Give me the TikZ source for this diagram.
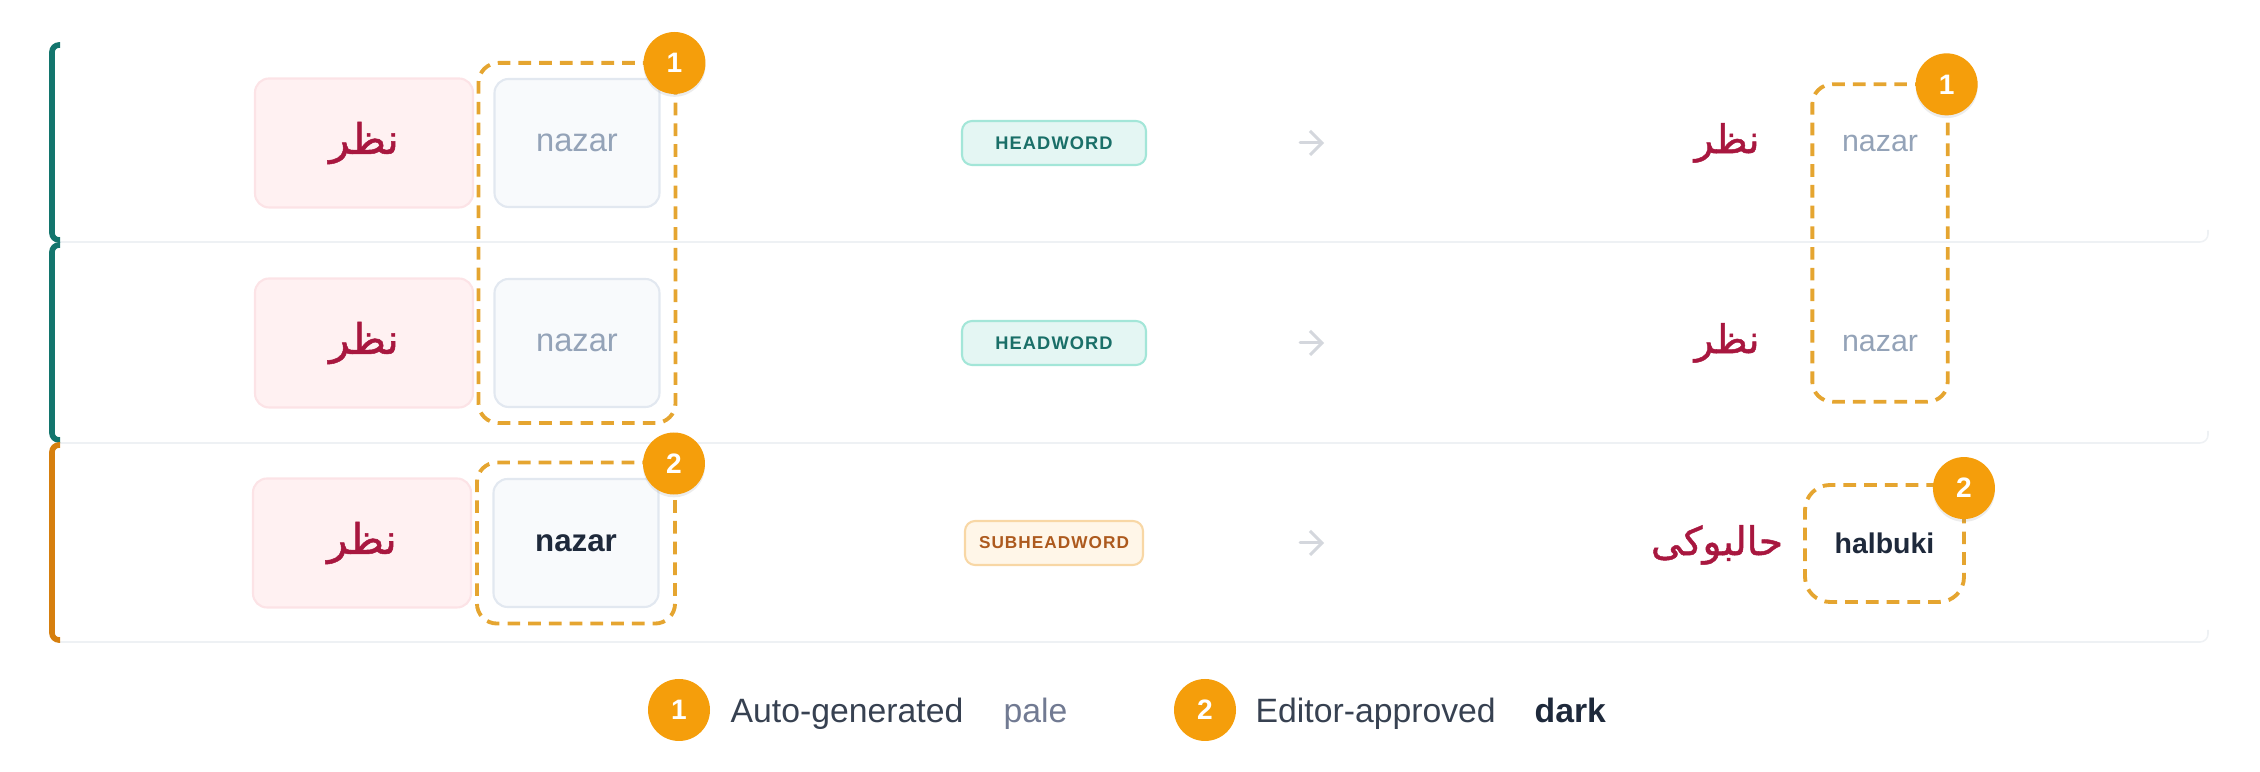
\documentclass[tikz,border=0pt]{standalone}
\usepackage{fontspec}
\setmainfont{Liberation Sans}
\newfontfamily\arabicfont[Script=Arabic,FakeBold=1.2]{DejaVu Sans}
\newfontfamily\tagfont[LetterSpace=6]{Liberation Sans}
\TeXXeTstate=1
\usetikzlibrary{fit,arrows.meta,shadows}
\definecolor{barteal}{HTML}{13756D}
\definecolor{barorange}{HTML}{D67F0E}
\definecolor{sepline}{HTML}{EEF1F4}
\definecolor{srcfill}{HTML}{FFF1F2}
\definecolor{srcline}{HTML}{FCE3E6}
\definecolor{arab}{HTML}{A8173F}
\definecolor{romfill}{HTML}{F8FAFC}
\definecolor{romline}{HTML}{E2E8F0}
\definecolor{pale}{HTML}{94A3B8}
\definecolor{ink}{HTML}{1E293B}
\definecolor{dashc}{HTML}{E5A530}
\definecolor{amber}{HTML}{F59E0B}
\definecolor{headfill}{HTML}{E4F6F3}
\definecolor{headline}{HTML}{A3E6D8}
\definecolor{headtext}{HTML}{1A6F68}
\definecolor{subfill}{HTML}{FFF6E8}
\definecolor{subline}{HTML}{F8D7A5}
\definecolor{subtext}{HTML}{AD5A1E}
\definecolor{arrowc}{HTML}{D4D7DD}
\definecolor{legtext}{HTML}{374151}
\definecolor{legpale}{HTML}{717A92}
\begin{document}
\begin{tikzpicture}[
  src/.style={draw=srcline,fill=srcfill,line width=0.6pt,rounded corners=0.14cm,minimum width=2.18cm,minimum height=1.29cm,text=arab,font=\arabicfont\fontsize{12}{14}\selectfont},
  rom/.style={draw=romline,fill=romfill,line width=0.6pt,rounded corners=0.14cm,minimum width=1.65cm,minimum height=1.28cm,font=\fontsize{9.3}{11}\selectfont},
  romcell/.style={minimum width=1.34cm,minimum height=1.16cm,inner sep=0pt,text=pale,font=\fontsize{8.65}{10}\selectfont},
  grp/.style={draw=dashc,line width=1.1pt,dash pattern=on 3.6pt off 2.3pt,rounded corners=0.2cm},
  num/.style={circle,fill=amber,text=white,minimum size=0.62cm,inner sep=0pt,font=\bfseries\fontsize{8}{8}\selectfont},
  numshadow/.style={num,drop shadow={opacity=0.15,shadow xshift=0pt,shadow yshift=-0.8pt}},
  tag/.style={rounded corners=0.1cm,line width=0.6pt,minimum height=0.44cm,inner sep=0pt,font=\tagfont\bfseries\fontsize{5.2}{6}\selectfont},
  outword/.style={text=arab,font=\arabicfont\fontsize{11.2}{13}\selectfont},
  arr/.style={-{Straight Barb[length=3.4pt,width=6.8pt]},arrowc,line width=0.85pt,line cap=round},
  legtxt/.style={anchor=base west,inner sep=0pt,text=legtext,font=\fontsize{9.6}{11}\selectfont}
]
\useasboundingbox (0,0) rectangle (22.6,-7.72);
\draw[sepline,line width=0.45pt,rounded corners=0.08cm] (0.6,-2.42) -- (22.08,-2.42) -- (22.08,-2.3);
\draw[sepline,line width=0.45pt,rounded corners=0.08cm] (0.6,-4.43) -- (22.08,-4.43) -- (22.08,-4.31);
\draw[sepline,line width=0.45pt,rounded corners=0.08cm] (0.6,-6.42) -- (22.08,-6.42) -- (22.08,-6.30);
\draw[barteal,line width=1.6pt,rounded corners=0.07cm] (0.6,-0.45) -- (0.52,-0.45) -- (0.52,-2.40) -- (0.6,-2.40);
\draw[barteal,line width=1.6pt,rounded corners=0.07cm] (0.6,-2.45) -- (0.52,-2.45) -- (0.52,-4.40) -- (0.6,-4.40);
\draw[barorange,line width=1.6pt,rounded corners=0.07cm] (0.6,-4.45) -- (0.52,-4.45) -- (0.52,-6.40) -- (0.6,-6.40);

\node[src] (S1) at (3.64,-1.43) {\beginR نظر\endR};
\node[rom,text=pale] (R1) at (5.77,-1.43) {nazar};
\node[src] (S2) at (3.64,-3.43) {\beginR نظر\endR};
\node[rom,text=pale] (R2) at (5.77,-3.43) {nazar};
\node[src] (S3) at (3.62,-5.43) {\beginR نظر\endR};
\node[rom,text=ink,font=\bfseries\fontsize{8.9}{10}\selectfont] (R3) at (5.76,-5.43) {nazar};
\node[grp,fit=(R1)(R2),inner sep=0.15cm] (G1) {};
\node[grp,fit=(R3),inner sep=0.155cm] (G2) {};
\node[numshadow] (B1) at ([shift={(-0.03,-0.02)}]G1.north east) {1};
\node[numshadow] (B2) at ([shift={(-0.03,-0.03)}]G2.north east) {2};

\node[tag,draw=headline,fill=headfill,text=headtext,minimum width=1.84cm] (T1) at (10.54,-1.43) {HEADWORD};
\node[tag,draw=headline,fill=headfill,text=headtext,minimum width=1.84cm] (T2) at (10.54,-3.43) {HEADWORD};
\node[tag,draw=subline,fill=subfill,text=subtext,minimum width=1.78cm,font=\tagfont\bfseries\fontsize{4.9}{6}\selectfont] (T3) at (10.54,-5.43) {SUBHEADWORD};
\coordinate (A1) at (13.00,-1.43); \coordinate (A1e) at (13.24,-1.43);
\coordinate (A2) at (13.00,-3.43); \coordinate (A2e) at (13.24,-3.43);
\coordinate (A3) at (13.00,-5.43); \coordinate (A3e) at (13.24,-5.43);
\draw[arr] (A1) -- (A1e);
\draw[arr] (A2) -- (A2e);
\draw[arr] (A3) -- (A3e);

\node[outword] (P1) at (17.27,-1.43) {\beginR نظر\endR};
\node[outword] (P2) at (17.27,-3.43) {\beginR نظر\endR};
\node[outword] (P3) at (17.17,-5.45) {\beginR حالبوکی\endR};
\node[romcell] (O1) at (18.80,-1.43) {nazar};
\node[romcell] (O2) at (18.80,-3.43) {nazar};
\node[grp,fit=(O1)(O2),inner sep=0pt] (G3) {};
\node[grp,rounded corners=0.25cm,minimum width=1.59cm,minimum height=1.17cm,text=ink,font=\bfseries\fontsize{8.1}{9}\selectfont] (G4) at (18.845,-5.435) {halbuki};
\node[numshadow] (B3) at ([shift={(-0.03,-0.02)}]G3.north east) {1};
\node[numshadow] (B4) at ([shift={(-0.02,-0.05)}]G4.north east) {2};

\node[num] (L1) at (6.79,-7.10) {1};
\node[legtxt] (L1a) at (7.30,-7.23) {Auto-generated};
\node[legtxt,text=legpale] (L1b) at (10.03,-7.23) {pale};
\node[num] (L2) at (12.05,-7.10) {2};
\node[legtxt] (L2a) at (12.55,-7.23) {Editor-approved};
\node[legtxt,text=ink,font=\bfseries\fontsize{9.6}{11}\selectfont] (L2b) at (15.34,-7.23) {dark};
\end{tikzpicture}
\end{document}
